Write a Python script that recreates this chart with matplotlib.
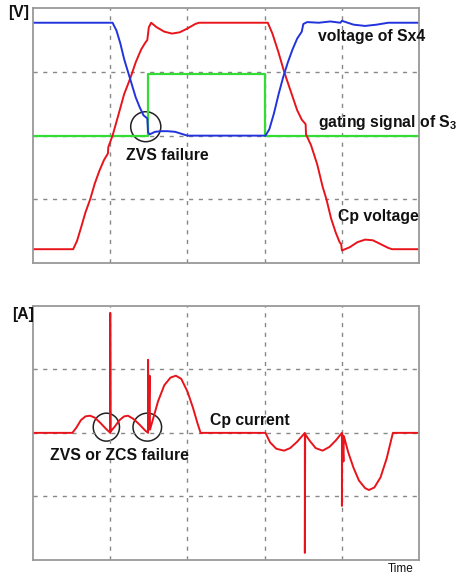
import numpy as np
import matplotlib.pyplot as plt
from matplotlib.patches import Ellipse

# --- top panel: voltages (time in grid divisions, value in grid divisions) ---
sx4_t = [0, 1.03, 1.08, 1.13, 1.18, 1.23, 1.28, 1.33, 1.38, 1.43, 1.48, 1.49, 1.51,
         1.58, 1.66, 1.74, 1.84, 1.92, 2.0, 3.01, 3.06, 3.12, 3.18, 3.24, 3.3, 3.36,
         3.42, 3.48, 3.5, 3.55, 3.7, 3.85, 3.98, 4.0, 4.15, 4.3, 4.45, 4.6, 5.0]
sx4_v = [3.77, 3.77, 3.65, 3.45, 3.2, 3.0, 2.8, 2.6, 2.45, 2.32, 2.27, 2.05, 2.02,
         2.06, 2.07, 2.07, 2.06, 2.03, 2.0, 2.0, 2.1, 2.35, 2.65, 2.92, 3.15, 3.35,
         3.52, 3.63, 3.75, 3.78, 3.77, 3.79, 3.77, 3.8, 3.74, 3.72, 3.74, 3.77, 3.77]

cp_t = [0, 0.52, 0.57, 0.62, 0.68, 0.74, 0.8, 0.86, 0.92, 0.97, 0.975, 1.03, 1.1,
        1.18, 1.26, 1.33, 1.4, 1.45, 1.48, 1.5, 1.53, 1.6, 1.7, 1.8, 1.9, 2.0, 2.1,
        2.15, 3.04, 3.1, 3.18, 3.24, 3.28, 3.35, 3.42, 3.48, 3.53, 3.535, 3.6, 3.68,
        3.75, 3.8, 3.86, 3.92, 3.97, 3.99, 4.0, 4.1, 4.2, 4.3, 4.4, 4.5, 4.6, 4.65, 5.0]
cp_v = [0.22, 0.22, 0.35, 0.55, 0.8, 1.0, 1.25, 1.45, 1.62, 1.72, 1.82, 2.0, 2.3,
        2.65, 2.9, 3.15, 3.35, 3.45, 3.5, 3.7, 3.77, 3.7, 3.63, 3.6, 3.62, 3.68, 3.75,
        3.77, 3.77, 3.6, 3.3, 3.05, 2.9, 2.65, 2.4, 2.25, 2.18, 2.02, 1.85, 1.55,
        1.2, 1.0, 0.7, 0.48, 0.33, 0.3, 0.2, 0.25, 0.33, 0.37, 0.36, 0.3, 0.24, 0.22, 0.22]

gate_t = [0, 1.49, 1.49, 3.01, 3.01, 5.0]
gate_v = [2.0, 2.0, 2.97, 2.97, 2.0, 2.0]

# --- bottom panel: Cp current ---
ic_t = [0, 0.51, 0.56, 0.62, 0.68, 0.74, 0.8, 0.87, 0.94, 1.0, 1.0, 1.004,
        1.06, 1.12, 1.18, 1.23, 1.3, 1.38, 1.45, 1.49, 1.49, 1.495, 1.51, 1.515,
        1.55, 1.62, 1.7, 1.78, 1.85, 1.92, 2.0, 2.07, 2.13, 2.17,
        3.01, 3.07, 3.15, 3.25, 3.33, 3.42, 3.52, 3.52, 3.524,
        3.58, 3.66, 3.75, 3.84, 3.92, 4.0, 4.0, 4.004, 4.02, 4.025,
        4.08, 4.15, 4.22, 4.3, 4.35, 4.42, 4.5, 4.58, 4.63, 4.66, 5.0]
ic_v = [0, 0, 0.08, 0.2, 0.26, 0.27, 0.24, 0.16, 0.07, 0.0, 1.89, 0.02,
        0.1, 0.2, 0.26, 0.27, 0.22, 0.13, 0.04, 0.0, 1.15, 0.05, 0.9, 0.05,
        0.2, 0.5, 0.75, 0.87, 0.9, 0.85, 0.65, 0.4, 0.15, 0.0,
        0.0, -0.15, -0.25, -0.28, -0.24, -0.14, 0.0, -1.89, -0.02,
        -0.12, -0.24, -0.28, -0.22, -0.12, 0.0, -1.15, -0.02, -0.45, -0.05,
        -0.3, -0.55, -0.75, -0.87, -0.9, -0.86, -0.7, -0.4, -0.15, 0.0, 0.0]

red = '#e8141c'
blue = '#2233dd'
green = '#33dd33'

plt.rcParams['mathtext.fontset'] = 'custom'
plt.rcParams['mathtext.bf'] = 'Liberation Sans:bold'
plt.rcParams['mathtext.rm'] = 'Liberation Sans:bold'

txt = dict(fontfamily=['Liberation Sans', 'DejaVu Sans'], fontweight='bold',
           fontsize=11.3, color='#111111')

fig = plt.figure(figsize=(4.57, 5.76), dpi=100)
ax1 = fig.add_axes([0.0722, 0.543, 0.845, 0.443])
ax2 = fig.add_axes([0.0722, 0.028, 0.845, 0.441])


def style(ax, ylo, yhi, yt):
    ax.set_xlim(0, 5)
    ax.set_ylim(ylo, yhi)
    ax.set_xticks([1, 2, 3, 4])
    ax.set_yticks(yt)
    ax.tick_params(length=0, labelbottom=False, labelleft=False)
    ax.grid(True, color='#888888', linestyle=(0, (3, 4)), linewidth=1.0)
    for s in ax.spines.values():
        s.set_color('#999999')
        s.set_linewidth(1.3)


style(ax1, 0, 4, [1, 2, 3])
style(ax2, -2, 2, [-1, 0, 1])

ax1.plot(gate_t, gate_v, color=green, lw=1.6)
ax1.plot(cp_t, cp_v, color=red, lw=1.4)
ax1.plot(sx4_t, sx4_v, color=blue, lw=1.4)
ax1.add_patch(Ellipse((1.46, 2.14), 0.39, 0.47, fill=False, ec='#222222', lw=1.1))
ax1.text(3.69, 3.55, 'voltage of Sx4', va='center', clip_on=False, **txt)
ax1.text(3.69, 2.2, r'gating signal of S$_\mathrm{3}$', va='center', clip_on=False, **txt)
ax1.text(3.95, 0.74, 'Cp voltage', va='center', clip_on=False, **txt)
ax1.text(1.2, 1.69, 'ZVS failure', va='center', clip_on=False, **txt)

ax2.plot(ic_t, ic_v, color=red, lw=1.4)
ax2.add_patch(Ellipse((0.95, 0.09), 0.34, 0.44, fill=False, ec='#222222', lw=1.1))
ax2.add_patch(Ellipse((1.48, 0.09), 0.37, 0.44, fill=False, ec='#222222', lw=1.1))
ax2.text(0.22, -0.35, 'ZVS or ZCS failure', va='center', clip_on=False, **txt)
ax2.text(2.29, 0.2, 'Cp current', va='center', clip_on=False, **txt)

fig.text(8 / 457, 1 - 13 / 576, '[V]', va='center', ha='left', **txt)
fig.text(12 / 457, 1 - 315 / 576, '[A]', va='center', ha='left', **txt)
fig.text(388 / 457, 1 - 569 / 576, 'Time', va='center', ha='left',
         fontfamily='Liberation Sans', fontsize=8.5, color='#111111')

fig.savefig('out.png', dpi=100)
